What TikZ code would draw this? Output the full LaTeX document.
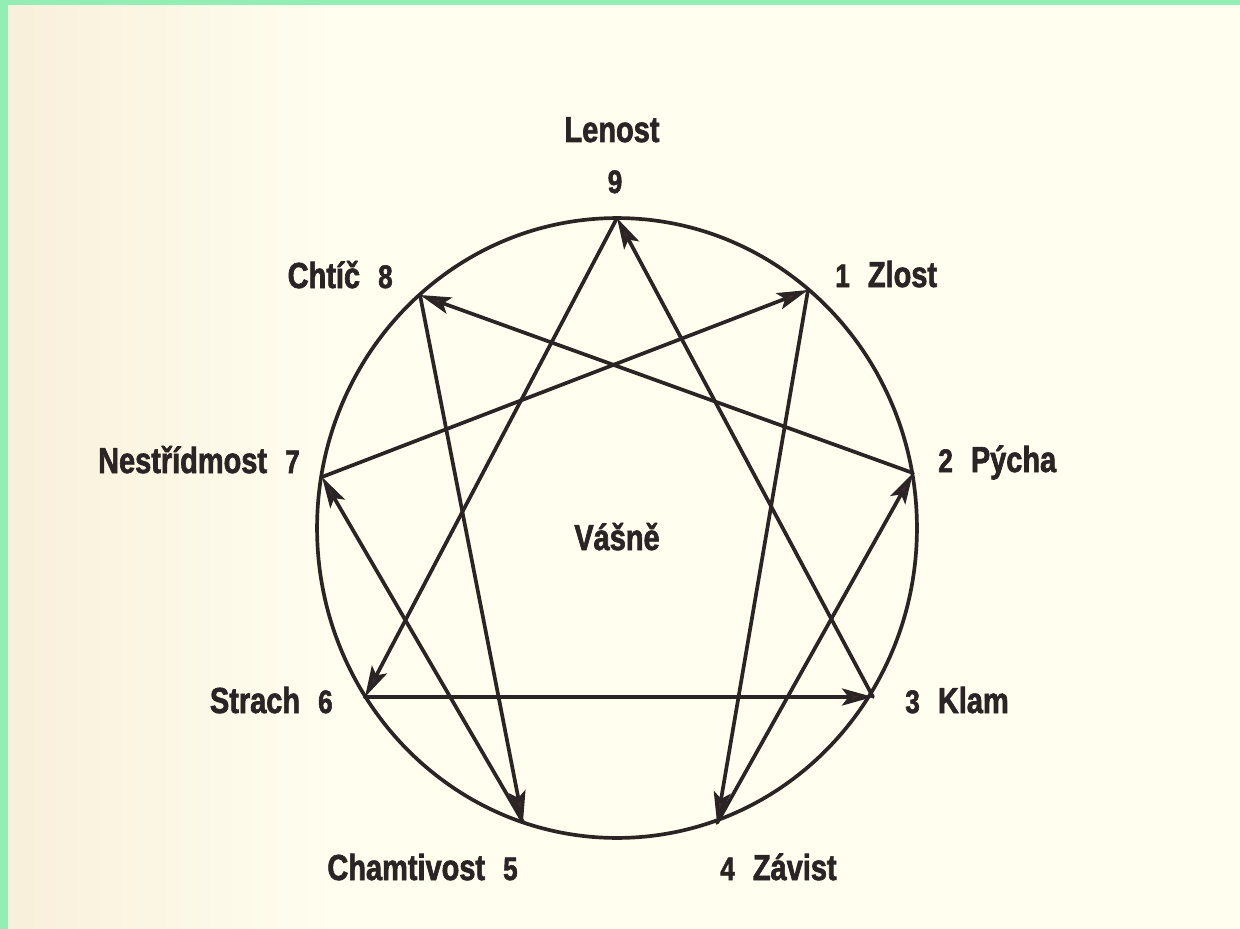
\documentclass[tikz,border=0pt]{standalone}
\usepackage{fontspec}
\setmainfont{Liberation Sans}
\newfontfamily\labfont{Liberation Sans}[FakeStretch=0.8,FakeBold=1.8]
\usetikzlibrary{arrows.meta}
\definecolor{ink}{HTML}{2B2424}
\definecolor{tipc}{HTML}{3D2C29}
\definecolor{paper}{HTML}{FFFEEF}
\definecolor{paperdark}{HTML}{F8EFDA}
\definecolor{frame}{HTML}{92EEB4}
\newcommand\dg[1]{{\fontsize{18.5}{22}\selectfont #1}}
\newcommand\gap{\hspace{0.5em}}
\tikzset{
  lab/.style={font=\labfont\bfseries\fontsize{20.6}{24}\selectfont, text=ink, inner sep=0pt},
  arc/.style={line width=2.1pt, draw=ink, line cap=round,
    -{Stealth[length=0.62cm,width=0.34cm,inset=0.13cm,fill=tipc]}},
}
\begin{document}
\begin{tikzpicture}[x=0.02cm,y=-0.02cm]
\useasboundingbox (0,0) rectangle (1240,929);
% background
\fill[paper] (0,0) rectangle (1240,929);
\shade[left color=paperdark, right color=paper] (0,0) rectangle (330,929);
\fill[frame] (0,0) rectangle (1240,5);
\fill[frame] (0,0) rectangle (8,929);
% points
\coordinate (p9) at (617,218);
\coordinate (p1) at (808,290);
\coordinate (p2) at (913,473);
\coordinate (p3) at (873,697);
\coordinate (p4) at (717,823);
\coordinate (p5) at (523,822);
\coordinate (p6) at (365,697);
\coordinate (p7) at (322,477);
\coordinate (p8) at (420,295);
\coordinate (c) at (617,528);
% circle
\draw[ink, line width=2.1pt] (c) ellipse [x radius=6cm, y radius=6.2cm];
% arrows
\draw[arc] (p9) -- (p6);
\draw[arc] (p6) -- (p3);
\draw[arc] (p3) -- (p9);
\draw[arc] (p1) -- (p4);
\draw[arc] (p4) -- (p2);
\draw[arc] (p2) -- (p8);
\draw[arc] (p8) -- (p5);
\draw[arc] (p5) -- (p7);
\draw[arc] (p7) -- (p1);
% labels
\node[lab, anchor=base] (lenost) at (612,142) {Lenost};
\node[lab, anchor=base] (n9) at (615,193) {\dg{9}};
\node[lab, anchor=base east] (l8) at (393,288) {Chtíč\gap\dg{8}};
\node[lab, anchor=base west] (l1) at (835,287) {\dg{1}\gap Zlost};
\node[lab, anchor=base east] (l7) at (300,473) {Nestřídmost\gap\dg{7}};
\node[lab, anchor=base west] (l2) at (938,472) {\dg{2}\gap Pýcha};
\node[lab, anchor=base east] (l6) at (333,713) {Strach\gap\dg{6}};
\node[lab, anchor=base west] (l3) at (905,713) {\dg{3}\gap Klam};
\node[lab, anchor=base east] (l5) at (518,880) {Chamtivost\gap\dg{5}};
\node[lab, anchor=base west] (l4) at (720,880) {\dg{4}\gap Závist};
\node[lab, anchor=base] (center) at (617,550) {Vášně};
\end{tikzpicture}
\end{document}
